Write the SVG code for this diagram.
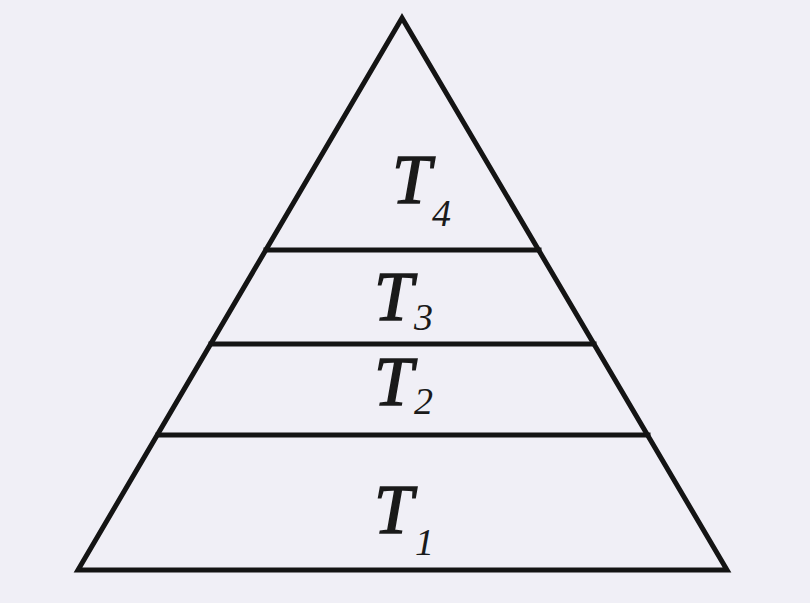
<svg xmlns="http://www.w3.org/2000/svg" width="810" height="603" viewBox="0 0 810 603">
<style>
.ln{stroke:#141414;stroke-width:5;fill:none;stroke-linejoin:miter;stroke-linecap:square}
.t{font-family:"Liberation Serif","Times New Roman",serif;font-style:italic;font-size:70px;fill:#1a1a1a;stroke:#1a1a1a;stroke-width:1.5}
.s{font-family:"Liberation Serif","Times New Roman",serif;font-style:italic;font-size:38px;fill:#1a1a1a}
</style>
<rect width="810" height="603" fill="#f0eff6"/>
<g id="pyramid">
<polygon class="ln" points="402,18 78,570 727,570"/>
</g>
<g id="connectors">
<line class="ln" x1="266" y1="250" x2="539" y2="250"/>
<line class="ln" x1="211" y1="344" x2="594" y2="344"/>
<line class="ln" x1="158" y1="435" x2="648" y2="435"/>
</g>
<g id="T4"><text class="t" x="392" y="203">T</text><text class="s" x="432" y="226">4</text></g>
<g id="T3"><text class="t" x="374" y="320">T</text><text class="s" x="414" y="330">3</text></g>
<g id="T2"><text class="t" x="374" y="405">T</text><text class="s" x="414" y="414">2</text></g>
<g id="T1"><text class="t" x="374" y="533">T</text><text class="s" x="415" y="555">1</text></g>
</svg>
